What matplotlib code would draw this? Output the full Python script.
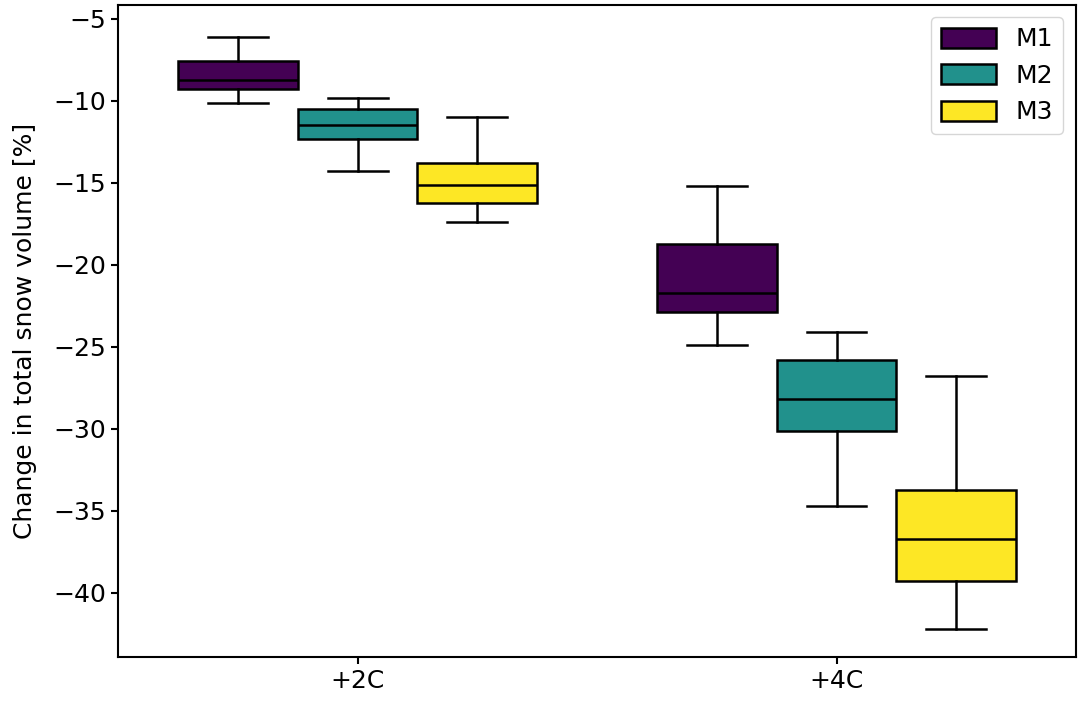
import numpy as np
import matplotlib
matplotlib.use("Agg")
import matplotlib.pyplot as plt
from matplotlib.patches import Patch

# ─── DATA ─────────────────────────────────────────────────────────────────────

scenarios = ["+2C", "+4C"]
models    = ["M1", "M2", "M3"]
colors    = ["#440154", "#21918c", "#fde725"]

# per scenario, per model: whisker low, Q1, median, Q3, whisker high
whislo = [[-10.1, -14.3, -17.4], [-24.9, -34.7, -42.2]]
q1     = [[-9.3, -12.3, -16.2],  [-22.9, -30.1, -39.3]]
med    = [[-8.7, -11.5, -15.1],  [-21.7, -28.2, -36.7]]
q3     = [[-7.55, -10.5, -13.8], [-18.7, -25.8, -33.7]]
whishi = [[-6.1, -9.8, -11.0],   [-15.2, -24.1, -26.8]]

# ─── PLOT ─────────────────────────────────────────────────────────────────────

plt.rcParams["font.size"] = 18
plt.rcParams["axes.linewidth"] = 1.5
plt.rcParams["ytick.major.width"] = 1.5
plt.rcParams["xtick.major.width"] = 1.5
plt.rcParams["ytick.major.size"] = 5
plt.rcParams["xtick.major.size"] = 5
fig = plt.figure(figsize=(10.84, 7.04), dpi=100)
ax = fig.add_axes([0.109, 0.067, 0.8836, 0.926])

offsets = [-0.25, 0.0, 0.25]
box_w   = 0.25
lw      = 1.8
for si in range(len(scenarios)):
    for mi in range(len(models)):
        stats = [{
            "whislo": whislo[si][mi], "q1": q1[si][mi], "med": med[si][mi],
            "q3": q3[si][mi], "whishi": whishi[si][mi], "fliers": [],
        }]
        ax.bxp(stats, positions=[si + offsets[mi]], widths=box_w,
               patch_artist=True, showfliers=False, manage_ticks=False,
               boxprops=dict(facecolor=colors[mi], edgecolor="black", linewidth=lw),
               medianprops=dict(color="black", linewidth=lw),
               whiskerprops=dict(color="black", linewidth=lw),
               capprops=dict(color="black", linewidth=lw),
               capwidths=box_w / 2)

ax.set_xlim(-0.5, 1.5)
ax.set_ylim(-43.9, -4.15)
ax.set_xticks(range(len(scenarios)))
ax.set_xticklabels(scenarios)
ax.set_ylabel("Change in total snow volume [%]", labelpad=12)

handles = [Patch(facecolor=c, edgecolor="black", linewidth=lw, label=m)
           for c, m in zip(colors, models)]
ax.legend(handles=handles, loc="upper right", fontsize=18,
          handlelength=2.2, handleheight=0.85, borderaxespad=0.5)

fig.savefig("out.png", dpi=100)
